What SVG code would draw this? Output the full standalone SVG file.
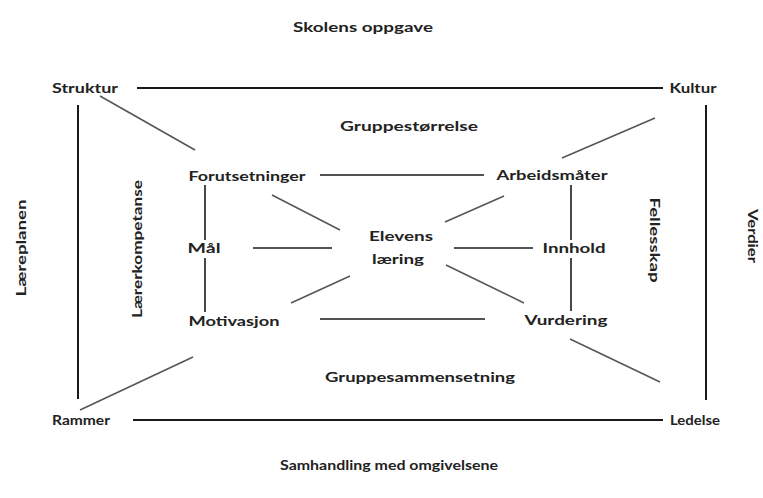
<svg xmlns="http://www.w3.org/2000/svg" width="763" height="498" viewBox="0 0 763 498">
<style>
text{font-family:"Lato","Liberation Sans",sans-serif;font-size:13px;font-weight:bold;fill:#222;text-anchor:middle;dominant-baseline:central}
.frame{stroke:#1a1a1a;stroke-width:2;fill:none}
.inner{stroke:#1a1a1a;stroke-width:1.6;fill:none}
.diag{stroke:#555;stroke-width:1.5;fill:none}
</style>
<rect width="763" height="498" fill="#fff"/>
<g id="connectors">
<line class="frame" x1="137" y1="88" x2="663" y2="88"/>
<line class="frame" x1="133" y1="420" x2="663" y2="420"/>
<line class="frame" x1="78" y1="105" x2="78" y2="399"/>
<line class="frame" x1="706" y1="105" x2="706" y2="400"/>
<line class="diag" x1="100" y1="96" x2="195" y2="150"/>
<line class="diag" x1="655" y1="118" x2="562" y2="158"/>
<line class="diag" x1="80" y1="410" x2="193" y2="357"/>
<line class="diag" x1="570" y1="339" x2="660" y2="382"/>
<line class="inner" x1="320" y1="175" x2="484" y2="175"/>
<line class="inner" x1="320" y1="319" x2="485" y2="319"/>
<line class="inner" x1="205" y1="185" x2="205" y2="240"/>
<line class="inner" x1="205" y1="258" x2="205" y2="312"/>
<line class="inner" x1="571" y1="185" x2="571" y2="240"/>
<line class="inner" x1="571" y1="258" x2="571" y2="311"/>
<line class="inner" x1="253" y1="248" x2="332" y2="248"/>
<line class="inner" x1="454" y1="248" x2="533" y2="248"/>
<line class="diag" x1="272" y1="195" x2="340" y2="230"/>
<line class="diag" x1="291" y1="303" x2="350" y2="276"/>
<line class="diag" x1="445" y1="222" x2="504" y2="196"/>
<line class="diag" x1="446" y1="265" x2="524" y2="303"/>
</g>
<g id="skolens-oppgave"><text x="363" y="27" textLength="140" lengthAdjust="spacingAndGlyphs">Skolens oppgave</text></g>
<g id="struktur"><text x="85" y="88" textLength="66" lengthAdjust="spacingAndGlyphs">Struktur</text></g>
<g id="kultur"><text x="693" y="88" textLength="47" lengthAdjust="spacingAndGlyphs">Kultur</text></g>
<g id="gruppestorrelse"><text x="409" y="126" textLength="138" lengthAdjust="spacingAndGlyphs">Gruppestørrelse</text></g>
<g id="forutsetninger"><text x="247" y="176" textLength="117" lengthAdjust="spacingAndGlyphs">Forutsetninger</text></g>
<g id="arbeidsmater"><text x="552" y="175" textLength="111" lengthAdjust="spacingAndGlyphs">Arbeidsmåter</text></g>
<g id="mal"><text x="204" y="248" textLength="33" lengthAdjust="spacingAndGlyphs">Mål</text></g>
<g id="elevens-laering"><text x="401" y="236" textLength="64" lengthAdjust="spacingAndGlyphs">Elevens</text><text x="398" y="259" textLength="52" lengthAdjust="spacingAndGlyphs">læring</text></g>
<g id="innhold"><text x="574" y="248" textLength="63" lengthAdjust="spacingAndGlyphs">Innhold</text></g>
<g id="motivasjon"><text x="234" y="321" textLength="91" lengthAdjust="spacingAndGlyphs">Motivasjon</text></g>
<g id="vurdering"><text x="566" y="320" textLength="83" lengthAdjust="spacingAndGlyphs">Vurdering</text></g>
<g id="gruppesammensetning"><text x="420" y="377" textLength="190" lengthAdjust="spacingAndGlyphs">Gruppesammensetning</text></g>
<g id="rammer"><text x="81" y="420" textLength="58" lengthAdjust="spacingAndGlyphs">Rammer</text></g>
<g id="ledelse"><text x="695" y="420" textLength="50" lengthAdjust="spacingAndGlyphs">Ledelse</text></g>
<g id="samhandling"><text x="389" y="465" textLength="218" lengthAdjust="spacingAndGlyphs">Samhandling med omgivelsene</text></g>
<g id="laereplanen"><text transform="translate(21 248) rotate(-90)" x="0" y="0" textLength="97" lengthAdjust="spacingAndGlyphs">Læreplanen</text></g>
<g id="laererkompetanse"><text transform="translate(137 249) rotate(-90)" x="0" y="0" textLength="138" lengthAdjust="spacingAndGlyphs">Lærerkompetanse</text></g>
<g id="fellesskap"><text transform="translate(655 240) rotate(90)" x="0" y="0" textLength="85" lengthAdjust="spacingAndGlyphs">Fellesskap</text></g>
<g id="verdier"><text transform="translate(753 236) rotate(90)" x="0" y="0" textLength="54" lengthAdjust="spacingAndGlyphs">Verdier</text></g>
</svg>
